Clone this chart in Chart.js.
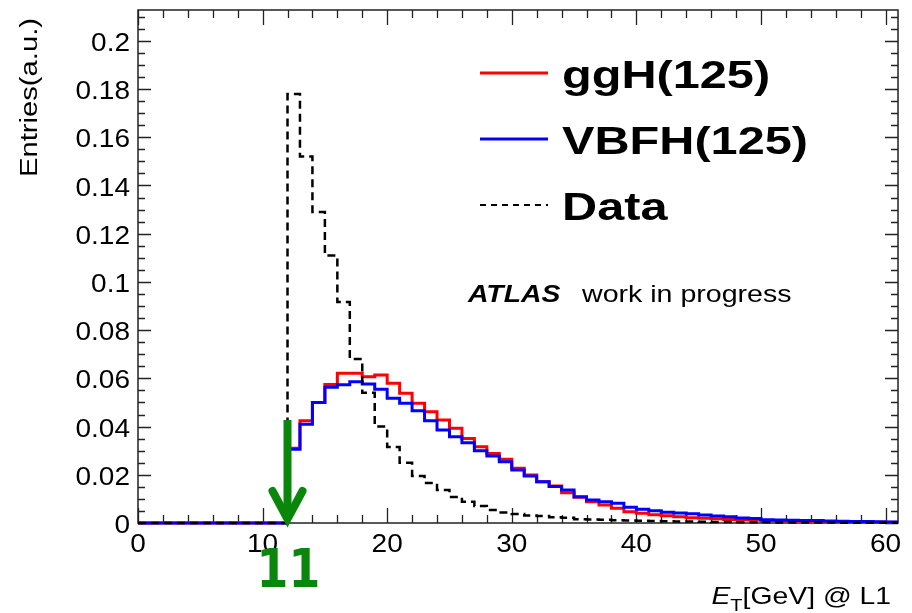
<!DOCTYPE html>
<html>
<head>
<meta charset="utf-8">
<script src="https://cdn.jsdelivr.net/npm/chart.js@4"></script>
<style>
  body { margin: 0; background: #fff; }
  canvas { display: block; }
</style>
</head>
<body>
<canvas id="myChart" width="912" height="613"></canvas>
<script>
// Bin lower edges (GeV), last entry is the upper edge of the last bin
const binEdges = [0, 1, 2, 3, 4, 5, 6, 7, 8, 9, 10, 11, 12, 13, 14, 15, 16, 17, 18, 19, 20,
  21, 22, 23, 24, 25, 26, 27, 28, 29, 30, 31, 32, 33, 34, 35, 36, 37, 38, 39, 40,
  41, 42, 43, 44, 45, 46, 47, 48, 49, 50, 51, 52, 53, 54, 55, 56, 57, 58, 59, 60, 61];

// Normalised entries per 1 GeV bin
const gghValues = [0, 0, 0, 0, 0, 0, 0, 0, 0, 0, 0, 0,
  0.031, 0.0424, 0.050, 0.0575, 0.0621, 0.0621, 0.0607, 0.0614, 0.058, 0.0538,
  0.0497, 0.0462, 0.0427, 0.0393, 0.0351, 0.0316, 0.0288, 0.0264, 0.0227, 0.0199,
  0.0171, 0.0154, 0.0126, 0.0107, 0.0088, 0.0075, 0.0061, 0.0047, 0.004, 0.0034,
  0.003, 0.0026, 0.0022, 0.002, 0.0018, 0.0015, 0.0014, 0.0012, 0.001, 0.0009,
  0.0008, 0.0007, 0.0006, 0.0005, 0.0005, 0.0004, 0.0004, 0.0003, 0.0003];

const vbfValues = [0, 0, 0, 0, 0, 0, 0, 0, 0, 0, 0, 0,
  0.0306, 0.041, 0.050, 0.0563, 0.0574, 0.0586, 0.0577, 0.0555, 0.0517, 0.0497,
  0.0466, 0.0424, 0.0386, 0.0358, 0.0333, 0.030, 0.0278, 0.0254, 0.022, 0.0195,
  0.0171, 0.0151, 0.0137, 0.0109, 0.0095, 0.0088, 0.0082, 0.0065, 0.0057, 0.0051,
  0.0045, 0.0041, 0.0038, 0.0033, 0.0029, 0.0026, 0.0021, 0.0019, 0.0013, 0.0012,
  0.0011, 0.001, 0.001, 0.0008, 0.0007, 0.0006, 0.0006, 0.0005, 0.0004];

const dataValues = [0, 0, 0, 0, 0, 0, 0, 0, 0, 0, 0, 0,
  0.178, 0.152, 0.129, 0.111, 0.0917, 0.068, 0.054, 0.040, 0.0315, 0.025,
  0.0195, 0.0166, 0.0137, 0.0108, 0.0088, 0.0071, 0.0054, 0.0044, 0.0037, 0.0031,
  0.0029, 0.0024, 0.0022, 0.0016, 0.0015, 0.0013, 0.0011, 0.001, 0.0009, 0.0008,
  0.0007, 0.0006, 0.0006, 0.0005, 0.0004, 0.0004, 0.0003, 0.0003, 0.0003, 0.0002,
  0.0002, 0.0002, 0.0002, 0.0002, 0.0001, 0.0001, 0.0001, 0.0001, 0.0001];

// Axis ticks
const xTickValues = [0, 10, 20, 30, 40, 50, 60];
const xTickLabels = ['0', '10', '20', '30', '40', '50', '60'];
const yTickValues = [0, 0.02, 0.04, 0.06, 0.08, 0.1, 0.12, 0.14, 0.16, 0.18, 0.2];
const yTickLabels = ['0', '0.02', '0.04', '0.06', '0.08', '0.1', '0.12', '0.14', '0.16', '0.18', '0.2'];

// Trigger threshold marker
const thresholdValue = 12;
const thresholdLabel = '11';

// turn bin contents into step points
function histPoints(values) {
  const pts = values.map((v, i) => ({ x: binEdges[i], y: v }));
  pts.push({ x: binEdges[values.length], y: values[values.length - 1] });
  return pts;
}

// text with a horizontal stretch, like the original slide
function drawText(ctx, s, x, y, font, align, sx, color) {
  ctx.save();
  ctx.font = font;
  ctx.fillStyle = color || '#000';
  ctx.textBaseline = 'alphabetic';
  ctx.textAlign = 'left';
  const w = ctx.measureText(s).width * sx;
  let x0 = x;
  if (align === 'right') x0 = x - w;
  if (align === 'center') x0 = x - w / 2;
  ctx.translate(x0, y);
  ctx.scale(sx, 1);
  ctx.fillText(s, 0, 0);
  ctx.restore();
  return w;
}

const SANS = '"Liberation Sans", Arial, sans-serif';

// ROOT-like frame, ticks and tick labels
const framePlugin = {
  id: 'frame',
  beforeDatasetsDraw(chart) {
    const { ctx, chartArea: a, scales: { x, y } } = chart;
    ctx.save();
    ctx.strokeStyle = '#222';
    ctx.lineWidth = 1.5;
    ctx.strokeRect(a.left, a.top, a.right - a.left, a.bottom - a.top);
    ctx.lineWidth = 1.3;
    ctx.beginPath();
    // x ticks every 2 GeV, major every 10
    for (let v = 0; v <= 61; v += 2) {
      const px = Math.round(x.getPixelForValue(v)) + 0.5;
      const len = v % 10 === 0 ? 15 : 8;
      ctx.moveTo(px, a.bottom); ctx.lineTo(px, a.bottom - len);
      ctx.moveTo(px, a.top); ctx.lineTo(px, a.top + len);
    }
    // y ticks every 0.005, major every 0.02
    for (let k = 0; k <= 42; k++) {
      const v = k * 0.005;
      if (v > y.max) break;
      const py = Math.round(y.getPixelForValue(v)) + 0.5;
      const len = k % 4 === 0 ? 13 : 7;
      ctx.moveTo(a.left, py); ctx.lineTo(a.left + len, py);
      ctx.moveTo(a.right, py); ctx.lineTo(a.right - len, py);
    }
    ctx.stroke();
    ctx.restore();

    xTickValues.forEach((v, i) => {
      drawText(ctx, xTickLabels[i], x.getPixelForValue(v), 552, '25px ' + SANS, 'center', 1.12);
    });
    yTickValues.forEach((v, i) => {
      drawText(ctx, yTickLabels[i], 130, y.getPixelForValue(v) + 10, '25px ' + SANS, 'right', 1.12);
    });

    // axis titles
    ctx.save();
    ctx.translate(37, 18);
    ctx.rotate(-Math.PI / 2);
    drawText(ctx, 'Entries(a.u.)', 0, 0, '23px ' + SANS, 'right', 1.27);
    ctx.restore();

    const f = '24px ' + SANS;
    const wRest = drawText(ctx, '[GeV] @ L1', 891, 604, f, 'right', 1.18);
    const wT = drawText(ctx, 'T', 891 - wRest, 611, '17px ' + SANS, 'right', 1.18);
    drawText(ctx, 'E', 891 - wRest - wT, 604, 'italic ' + f, 'right', 1.18);
  },
  afterDraw(chart) {
    const { ctx, scales: { x, y } } = chart;

    // legend
    const rows = [
      { label: 'ggH(125)', color: '#ff0000', width: 3, dash: [], y: 73 },
      { label: 'VBFH(125)', color: '#0000ff', width: 3, dash: [], y: 139 },
      { label: 'Data', color: '#000', width: 2, dash: [6, 5], y: 205 },
    ];
    rows.forEach(r => {
      ctx.save();
      ctx.strokeStyle = r.color;
      ctx.lineWidth = r.width;
      ctx.setLineDash(r.dash);
      ctx.beginPath();
      ctx.moveTo(480, r.y); ctx.lineTo(548, r.y);
      ctx.stroke();
      ctx.restore();
      drawText(ctx, r.label, 562, r.y + 15, 'bold 38px ' + SANS, 'left', 1.28);
    });

    drawText(ctx, 'ATLAS', 468, 302, 'italic bold 24px ' + SANS, 'left', 1.18);
    drawText(ctx, 'work in progress', 582, 302, '24px ' + SANS, 'left', 1.19);

    // green arrow at the threshold
    const ax = x.getPixelForValue(thresholdValue);
    const tip = y.getPixelForValue(0);
    const green = '#0a860a';
    ctx.save();
    ctx.strokeStyle = green;
    ctx.fillStyle = green;
    ctx.lineWidth = 8;
    ctx.beginPath();
    ctx.moveTo(ax, 420); ctx.lineTo(ax, tip - 8);
    ctx.stroke();
    ctx.lineCap = 'round';
    ctx.beginPath();
    ctx.moveTo(ax - 15, tip - 32); ctx.lineTo(ax, tip - 4); ctx.lineTo(ax + 15, tip - 32);
    ctx.stroke();
    ctx.beginPath();
    ctx.moveTo(ax - 9, tip - 18); ctx.lineTo(ax, tip); ctx.lineTo(ax + 9, tip - 18);
    ctx.closePath();
    ctx.fill();
    ctx.restore();
    drawText(ctx, thresholdLabel, ax + 1, 587, 'bold 54px "DejaVu Sans", sans-serif', 'center', 0.85, green);
  }
};

const ctx = document.getElementById('myChart').getContext('2d');
const myChart = new Chart(ctx, {
  type: 'line',
  data: {
    datasets: [
      {
        label: 'ggH(125)',
        data: histPoints(gghValues),
        borderColor: '#ff0000',
        borderWidth: 3,
        order: 3,
      },
      {
        label: 'VBFH(125)',
        data: histPoints(vbfValues),
        borderColor: '#0000ff',
        borderWidth: 3,
        order: 2,
      },
      {
        label: 'Data',
        data: histPoints(dataValues),
        borderColor: '#000000',
        borderWidth: 2.5,
        borderDash: [8, 5],
        order: 1,
      },
    ],
  },
  options: {
    responsive: false,
    animation: false,
    devicePixelRatio: 1,
    layout: { padding: { left: 138, right: 14, top: 10, bottom: 90 } },
    datasets: {
      line: { stepped: 'before', tension: 0, pointRadius: 0, fill: false, clip: 4 },
    },
    scales: {
      x: { type: 'linear', min: 0, max: 61, display: false },
      y: { type: 'linear', min: 0, max: 0.2128, display: false },
    },
    plugins: {
      legend: { display: false },
      tooltip: { enabled: false },
    },
  },
  plugins: [framePlugin],
});
</script>
</body>
</html>
